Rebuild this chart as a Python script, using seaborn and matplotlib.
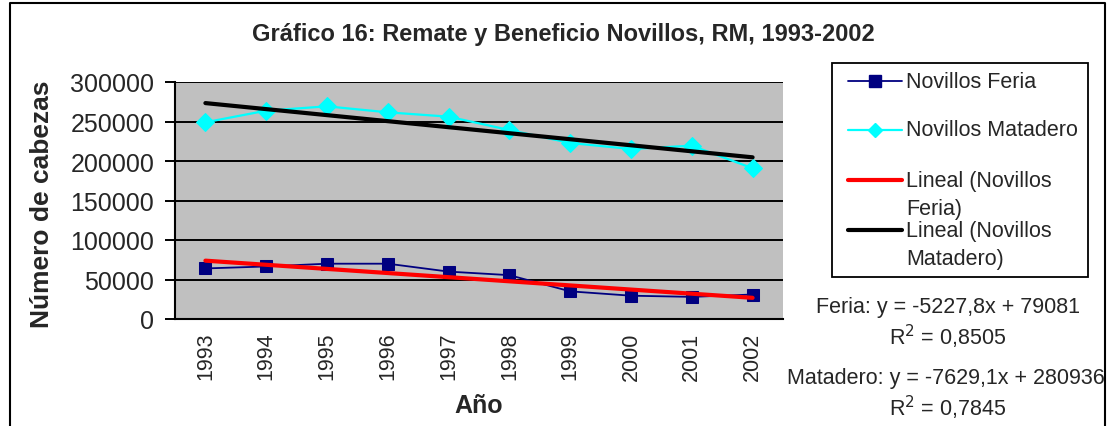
import numpy as np
import pandas as pd
import matplotlib
matplotlib.use("Agg")
import matplotlib.pyplot as plt
import seaborn as sns
from matplotlib.lines import Line2D
from matplotlib.patches import Rectangle
from matplotlib.ticker import MultipleLocator, FuncFormatter

years = ["1993", "1994", "1995", "1996", "1997", "1998", "1999", "2000", "2001", "2002"]
feria = [64000, 66500, 70000, 70000, 60000, 55500, 35000, 29500, 28000, 31000]
matadero = [249000, 263700, 269200, 261600, 256100, 239200, 222800, 215200, 219400, 190800]
feria_coef = (-5227.8, 79081)
matadero_coef = (-7629.1, 280936)

sns.set_style("white")
plt.rcParams["font.family"] = ["Liberation Sans", "DejaVu Sans"]

W, H = 1115, 427
fig = plt.figure(figsize=(W/100, H/100), dpi=100)
ax = fig.add_axes([175/W, (H-320)/H, 608/W, 237/H])

def fx(px):
    return px / W

def fy(py):
    return 1 - py / H

idx = np.arange(len(years))
xs = idx + 1
df = pd.DataFrame({"i": idx, "feria": feria, "matadero": matadero,
                   "t_feria": feria_coef[0]*xs + feria_coef[1],
                   "t_mat": matadero_coef[0]*xs + matadero_coef[1]})

ax.set_facecolor("#C0C0C0")
for v in range(50000, 300001, 50000):
    ax.axhline(v, color="black", lw=1.4, zorder=1)

sns.lineplot(data=df, x="i", y="feria", ax=ax, color="#000080", marker="s",
             markersize=9, markeredgecolor="#000080", lw=1.3, zorder=3)
sns.lineplot(data=df, x="i", y="matadero", ax=ax, color="#00FFFF", marker="D",
             markersize=9, markeredgecolor="#00FFFF", lw=1.6, zorder=3)
sns.lineplot(data=df, x="i", y="t_feria", ax=ax, color="#FF0000", lw=3, zorder=4)
sns.lineplot(data=df, x="i", y="t_mat", ax=ax, color="black", lw=3, zorder=4)

ax.set_xlim(-0.5, 9.5)
ax.set_ylim(0, 300000)
ax.yaxis.set_major_locator(MultipleLocator(50000))
ax.yaxis.set_major_formatter(FuncFormatter(lambda v, p: f"{int(v)}"))
ax.set_xticks(idx)
ax.set_xticklabels(years, rotation=90, fontsize=15.5)
ax.set_xticks(np.arange(-0.5, 10, 1), minor=True)
ax.tick_params(axis="x", which="major", length=0, pad=9)
ax.tick_params(axis="x", which="minor", length=5, width=1.4, color="black", direction="out")
ax.tick_params(axis="y", which="major", length=7, width=1.4, color="black", direction="out",
               labelsize=18, pad=8)
ax.tick_params(left=True)
for s in ["top", "right"]:
    ax.spines[s].set_visible(False)
for s in ["left", "bottom"]:
    ax.spines[s].set_color("black")
    ax.spines[s].set_linewidth(1.5)
ax.set_xlabel("Año", fontsize=18, fontweight="bold")
ax.xaxis.label.set_verticalalignment("center")
ax.xaxis.set_label_coords(0.5, (320-406)/237)
ax.set_ylabel("Número de cabezas", fontsize=19, fontweight="bold")
ax.yaxis.set_label_coords((54-175)/608, 0.49)

fig.text(fx(563), fy(35), "Gráfico 16: Remate y Beneficio Novillos, RM, 1993-2002",
         ha="center", va="center", fontsize=17, fontweight="bold")

# legend (drawn manually to match the original spacing)
fig.add_artist(Rectangle((fx(832), fy(278)), fx(1088)-fx(832), fy(64)-fy(278),
                         transform=fig.transFigure, fill=False, edgecolor="black", lw=1.3))
leg_lines = [
    (82, dict(color="#000080", lw=1.3), dict(marker="s", color="#000080", markersize=8)),
    (131, dict(color="#00FFFF", lw=1.6), dict(marker="D", color="#00FFFF", markersize=7)),
    (181, dict(color="#FF0000", lw=3), None),
    (231, dict(color="black", lw=3), None),
]
for yy, lkw, mkw in leg_lines:
    fig.add_artist(Line2D([fx(848), fx(902)], [fy(yy), fy(yy)], transform=fig.transFigure, **lkw))
    if mkw:
        fig.add_artist(Line2D([fx(875)], [fy(yy)], transform=fig.transFigure, lw=0, **mkw))
leg_text = [(82, "Novillos Feria"), (131, "Novillos Matadero"), (182, "Lineal (Novillos"),
            (210, "Feria)"), (232, "Lineal (Novillos"), (259, "Matadero)")]
for yy, t in leg_text:
    fig.text(fx(906), fy(yy), t, ha="left", va="center", fontsize=15.5)

fig.text(fx(948), fy(308), "Feria: y = -5227,8x + 79081", ha="center", va="center", fontsize=15.5)
fig.text(fx(948), fy(337), "R$^2$ = 0,8505", ha="center", va="center", fontsize=15.5)
fig.text(fx(946), fy(379), "Matadero: y = -7629,1x + 280936", ha="center", va="center", fontsize=15.5)
fig.text(fx(948), fy(408), "R$^2$ = 0,7845", ha="center", va="center", fontsize=15.5)

# outer chart border (bottom edge is cut off in the reference)
fig.add_artist(Line2D([fx(10), fx(10), fx(1105), fx(1105)], [0, fy(4), fy(4), 0],
                      color="black", lw=1.5, transform=fig.transFigure))

fig.savefig("out.png", dpi=100)
